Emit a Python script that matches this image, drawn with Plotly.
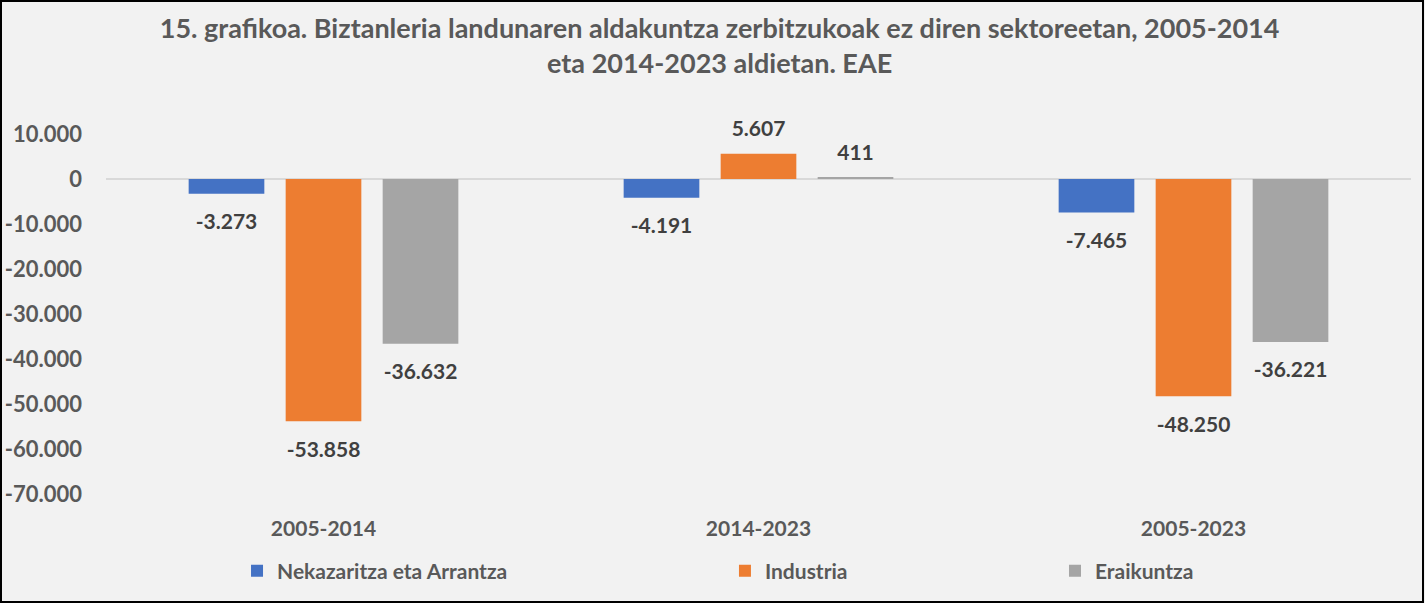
import plotly.graph_objects as go

categories = ["2005-2014", "2014-2023", "2005-2023"]
series_names = ["Nekazaritza eta Arrantza", "Industria", "Eraikuntza"]
nekazaritza = [-3273, -4191, -7465]
industria = [-53858, 5607, -48250]
eraikuntza = [-36632, 411, -36221]
tick_values = [10000, 0, -10000, -20000, -30000, -40000, -50000, -60000, -70000]

colors = ["#4472C4", "#ED7D31", "#A5A5A5"]
TXT = "#595959"
LBL = "#404040"
FONT = "Lato"


def fmt(v):
    return f"{v:,}".replace(",", ".")


fig = go.Figure()
all_series = [nekazaritza, industria, eraikuntza]
legends = ["legend", "legend2", "legend3"]
for i, (name, vals) in enumerate(zip(series_names, all_series)):
    fig.add_trace(go.Bar(
        x=categories, y=vals, name=name, marker_color=colors[i],
        marker_line_width=0, offsetgroup=str(i), legend=legends[i],
    ))
for i, (name, vals) in enumerate(zip(series_names, all_series)):
    fig.add_trace(go.Scatter(
        x=categories, y=vals, mode="markers+text", offsetgroup=str(i),
        text=[fmt(v) for v in vals],
        textposition=["bottom center" if v < 0 else "top center" for v in vals],
        marker=dict(size=[30 if v < 0 else 18 for v in vals], opacity=0),
        textfont=dict(family=FONT, size=21, color=LBL, weight="bold"),
        showlegend=False, hoverinfo="skip", cliponaxis=False,
    ))

legend_common = dict(orientation="h", bgcolor="rgba(0,0,0,0)",
                     font=dict(family=FONT, size=21, color=TXT, weight="bold"),
                     yanchor="middle", y=-0.214, xanchor="left")

fig.update_layout(
    width=1425, height=603,
    paper_bgcolor="#F2F2F2", plot_bgcolor="#F2F2F2",
    margin=dict(l=106, r=14, t=134, b=109, autoexpand=False),
    barmode="group", bargap=0.331, bargroupgap=0.22,
    scattermode="group", scattergap=0.331,
    title=dict(
        text="15. grafikoa. Biztanleria landunaren aldakuntza zerbitzukoak ez diren sektoreetan, 2005-2014<br>eta 2014-2023 aldietan. EAE",
        x=0.505, xref="container", xanchor="center",
        y=1 - 38 / 603, yref="container", yanchor="middle",
        font=dict(family=FONT, size=27, color=TXT, weight="bold"),
    ),
    xaxis=dict(showgrid=False, showline=False, ticks="", ticklabelstandoff=20,
               automargin=False,
               tickfont=dict(family=FONT, size=21, color=TXT, weight="bold")),
    yaxis=dict(range=[-70000, 10000], showgrid=False, zeroline=True,
               zerolinecolor="#D9D9D9", zerolinewidth=1.5, showline=False,
               tickvals=tick_values, ticktext=[fmt(v) for v in tick_values],
               ticklabelstandoff=23, automargin=False,
               tickfont=dict(family=FONT, size=22, color=TXT, weight="bold")),
    legend=dict(x=0.1004, **legend_common),
    legend2=dict(x=0.4743, **legend_common),
    legend3=dict(x=0.7272, **legend_common),
    showlegend=True,
)

fig.add_shape(type="rect", xref="paper", yref="paper",
              x0=(1 - 106) / 1305, x1=(1423 - 106) / 1305,
              y0=(494 - 602) / 360, y1=(494 - 1) / 360,
              line=dict(color="black", width=2), fillcolor="rgba(0,0,0,0)",
              layer="above")

fig.write_html("out.html", config={"displayModeBar": False},
               post_script="document.body.style.margin='0';")
